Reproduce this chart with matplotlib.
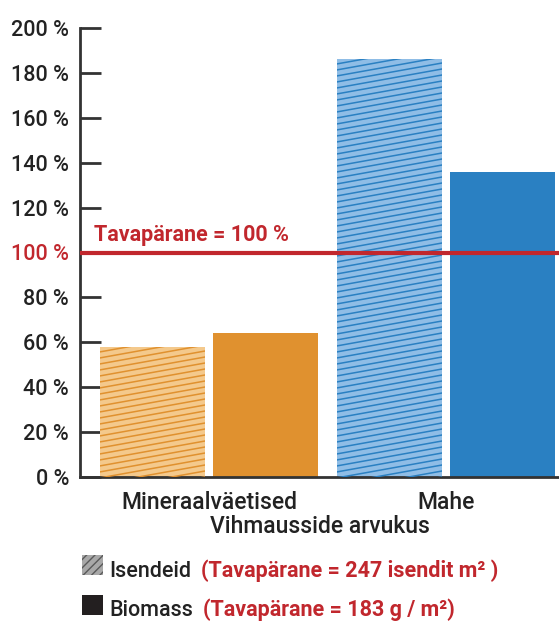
import numpy as np
import matplotlib
matplotlib.use("Agg")
import matplotlib.pyplot as plt
from matplotlib.patches import Rectangle
from matplotlib.transforms import IdentityTransform

plt.rcParams['font.family'] = ['Roboto', 'DejaVu Sans']
plt.rcParams['hatch.color'] = "#5a5a5a"

groups = ["Mineraalväetised", "Mahe"]
isendeid = [58, 186]   # % of conventional
biomass = [64, 136]
y_ticks = [0, 20, 40, 60, 80, 100, 120, 140, 160, 180, 200]
baseline = 100

light = ["#f4c98c", "#8fbde6"]
dark = ["#e0912f", "#2a80c2"]
red = "#c1272d"
axis_col = "#333333"
txt = "#222222"

fig = plt.figure(figsize=(5.59, 6.22), dpi=100)
ax = fig.add_axes([80 / 559, 145 / 622, 479 / 559, 449 / 622])

x = np.arange(len(groups))
w = 0.443
off = 0.238
b1 = ax.bar(x - off, isendeid, w, color=light, zorder=2)
b2 = ax.bar(x + off, biomass, w, color=dark, zorder=2)

ax.set_xlim(-0.544, 1.477)
ax.set_ylim(0, 200)

# shallow diagonal hatch lines clipped to the light bars
fig.canvas.draw()
for rect, col in zip(b1, dark):
    bb = rect.get_window_extent()
    step = 6.0
    slope = 0.18
    span = bb.width * slope
    y0 = bb.y0 - span
    while y0 < bb.y1:
        ln = ax.add_line(plt.Line2D([bb.x0, bb.x1], [y0, y0 + span],
                                    transform=IdentityTransform(),
                                    color=col, lw=1.1, zorder=3))
        ln.set_clip_path(rect)
        y0 += step

ax.axhline(baseline, color=red, lw=3, zorder=4)
ax.text(-0.485, baseline + 3, "Tavapärane = 100 %", color=red,
        fontsize=15.5, fontweight='semibold', va='bottom', ha='left', zorder=5)

for s in ["top", "right"]:
    ax.spines[s].set_visible(False)
for s in ["left", "bottom"]:
    ax.spines[s].set_color(axis_col)
    ax.spines[s].set_linewidth(2)

ax.set_yticks(y_ticks)
ax.set_yticklabels([f"{v} %" for v in y_ticks])
ax.tick_params(axis='y', direction='in', length=15, width=2, color=axis_col,
               labelsize=15.5, pad=8, labelcolor=txt)
for lbl, v in zip(ax.get_yticklabels(), y_ticks):
    lbl.set_fontweight('medium')
    if v == baseline:
        lbl.set_color(red)
ax.set_xticks(x)
ax.set_xticklabels(groups, fontweight='medium')
ax.tick_params(axis='x', length=0, labelsize=16.5, pad=10, labelcolor=txt)
ax.set_xlabel("Vihmausside arvukus", fontsize=16.5, fontweight='medium',
              color=txt, labelpad=1)

# legend below
fig.patches.append(Rectangle((82 / 559, 1 - 575 / 622), 21 / 559, 20 / 622,
                             transform=fig.transFigure, facecolor="#a8a8a8",
                             edgecolor="#5a5a5a", hatch="////", lw=0))
fig.patches.append(Rectangle((82 / 559, 1 - 615 / 622), 21 / 559, 20 / 622,
                             transform=fig.transFigure, facecolor="#231f20",
                             edgecolor="#231f20", lw=0))

rows = [("Isendeid", "(Tavapärane = 247 isendit m² )", 577),
        ("Biomass", "(Tavapärane = 183 g / m²)", 616)]
r = fig.canvas.get_renderer()
for black, redtxt, ypx in rows:
    t = fig.text(109 / 559, 1 - ypx / 622, black, fontsize=15.5,
                 fontweight='medium', color=txt, va='baseline')
    bb = t.get_window_extent(renderer=r)
    fig.text((bb.x1 + 10) / 559, 1 - ypx / 622, redtxt,
             fontsize=15.5, fontweight='semibold', color=red, va='baseline')

fig.savefig("out.png", dpi=100)
